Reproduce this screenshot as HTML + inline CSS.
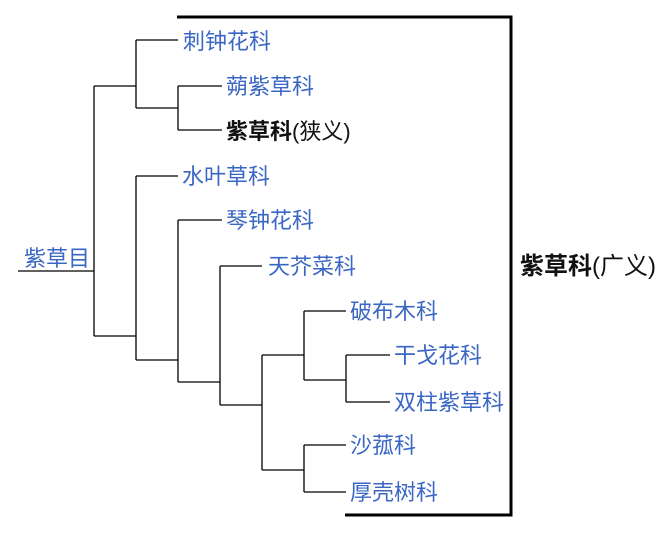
<!DOCTYPE html>
<html><head><meta charset="utf-8"><style>
html,body{margin:0;padding:0;background:#fff;width:666px;height:540px;overflow:hidden}
svg text{font-family:"Liberation Sans","Noto Sans CJK SC",sans-serif;font-size:22px;fill:#3a66c4}
</style></head><body>
<svg width="666" height="540" xmlns="http://www.w3.org/2000/svg">
<g stroke="#000" stroke-width="1.3" fill="none">
<path d="M18 271H94M94 86V336M94 86H136M136 40V108M136 40H178M136 108H178M178 86V130M178 86H222M178 130H222"/>
<path d="M94 336H136M136 176V360M136 176H178M136 360H178M178 220V382M178 220H222M178 382H220M220 266V405M220 266H262M220 405H262M262 355V470M262 355H304M304 311V380M304 311H346M304 380H346M346 355V402M346 355H390M346 402H390M262 470H304M304 445V492M304 445H346M304 492H346"/>
</g>
<path d="M177 17H511V515H345" stroke="#000" stroke-width="3" fill="none"/>
<text x="24" y="266">紫草目</text>
<text x="183" y="49">刺钟花科</text>
<text x="226" y="94">蒴紫草科</text>
<text x="226" y="139" style="fill:#111"><tspan font-weight="bold">紫草科</tspan>(狭义)</text>
<text x="182" y="184">水叶草科</text>
<text x="226" y="228">琴钟花科</text>
<text x="268" y="274">天芥菜科</text>
<text x="350" y="319">破布木科</text>
<text x="394" y="363">干戈花科</text>
<text x="394" y="410">双柱紫草科</text>
<text x="350" y="453">沙菰科</text>
<text x="350" y="500">厚壳树科</text>
<text x="520" y="274" style="fill:#111;font-size:24px"><tspan font-weight="bold">紫草科</tspan>(广义)</text>
</svg>
</body></html>
